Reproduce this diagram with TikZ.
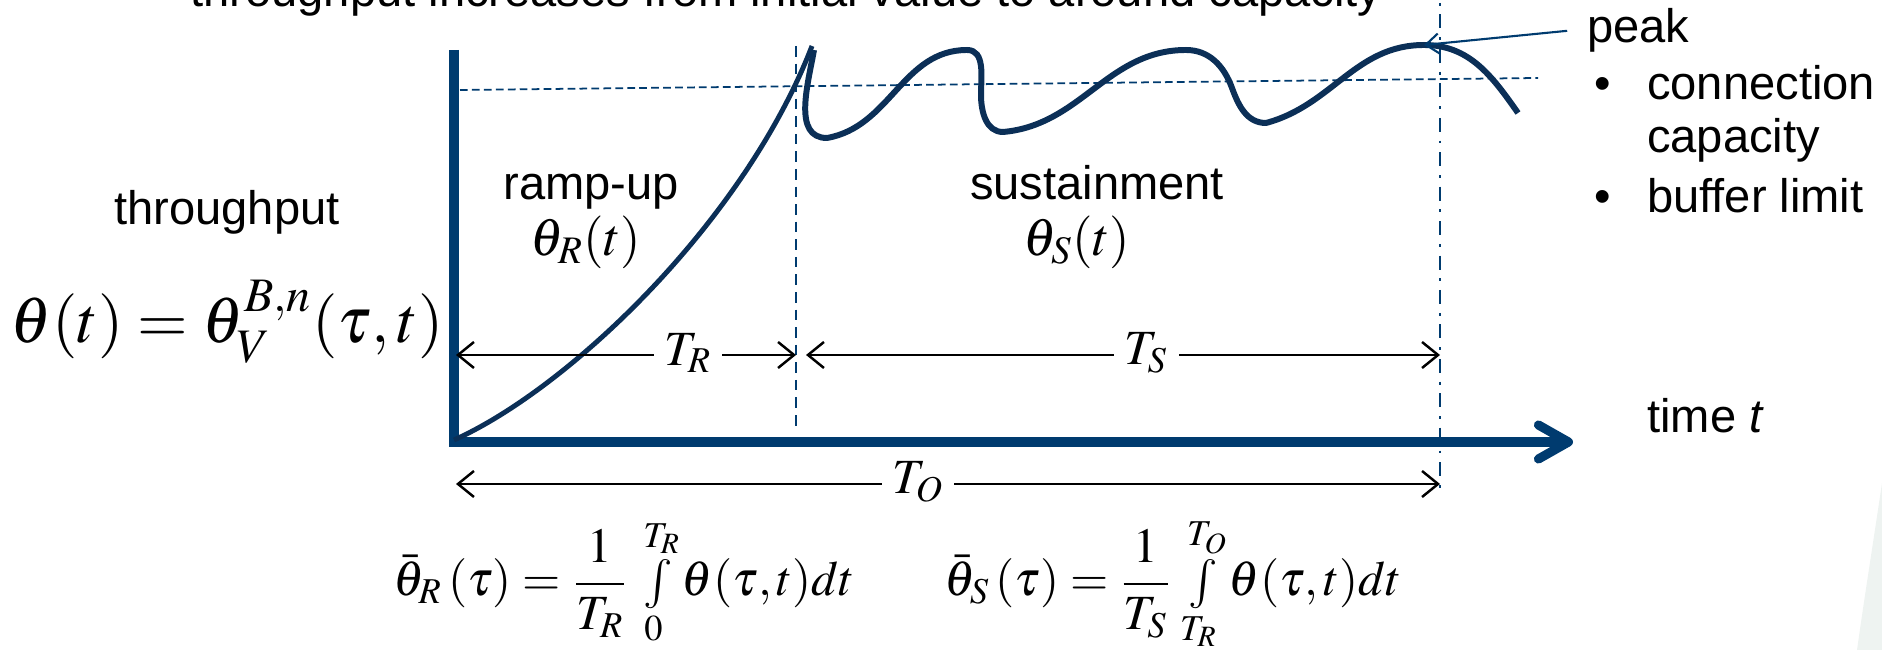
\documentclass[tikz,border=0pt]{standalone}
\usepackage{mathptmx}
\usepackage[no-math]{fontspec}
\setmainfont{Liberation Sans}
\usetikzlibrary{arrows.meta}

\definecolor{axisblue}{HTML}{003B6F}
\definecolor{curveblue}{HTML}{0B2F57}
\definecolor{slidebg}{HTML}{EEF3F1}

\begin{document}
\begin{tikzpicture}[
    every node/.style={font=\fontsize{13.4}{16}\selectfont, inner sep=1pt},
    axisline/.style={axisblue, line width=2.6pt},
    flowcurve/.style={curveblue, line width=1.7pt},
    guide/.style={axisblue, line width=0.6pt},
    dimline/.style={black, line width=0.7pt,
        {Straight Barb[length=1.6mm,width=2.6mm]}-{Straight Barb[length=1.6mm,width=2.6mm]}},
    dimlbl/.style={fill=white, inner xsep=3pt, inner ysep=1pt, font=\fontsize{14}{16}\selectfont},
    phaselbl/.style={font=\fontsize{15}{18}\selectfont},
    avglbl/.style={anchor=base, font=\fontsize{14}{17}\selectfont}
]

\useasboundingbox (0,0) rectangle (18.82,6.5);
\fill[slidebg] (18.82,1.67) .. controls (18.72,1.0) and (18.64,0.5) .. (18.57,0) -- (18.82,0) -- cycle;

% points of the plot
\coordinate (O) at (4.54,2.08);
\coordinate (ytop) at (4.54,6.00);
\coordinate (xend) at (15.73,2.08);
\coordinate (rtop) at (7.96,6.04);
\coordinate (rbot) at (7.96,2.22);
\coordinate (stop) at (14.40,6.70);
\coordinate (sbot) at (14.40,1.54);
\coordinate (capl) at (4.60,5.60);
\coordinate (capr) at (15.38,5.72);
\coordinate (pk) at (14.24,6.05);

% guide lines
\draw[guide, dash pattern=on 3pt off 2pt] (rtop) -- (rbot);
\draw[guide, dash pattern=on 4pt off 2.5pt on 0.8pt off 2.5pt] (stop) -- (sbot);
\draw[guide, line width=0.5pt, dash pattern=on 2.2pt off 1.2pt] (capl) -- (capr);

% axes
\draw[axisline, -{Straight Barb[length=3mm,width=3.4mm,round]}] (ytop) -- (O) -- (xend);

% ramp-up
\draw[flowcurve, line width=1.4pt] (4.54,2.10) .. controls (5.70,2.62) and (7.45,4.30) .. (8.12,6.04);

% sustainment
\draw[flowcurve] (8.14,6.00) to[out=-100,in=180] (8.27,5.12) to[out=10,in=180] (9.67,6.00)
    to[out=0,in=90] (9.81,5.55) to[out=-90,in=180] (10.03,5.18) to[out=5,in=180] (11.86,6.00)
    to[out=0,in=110] (12.32,5.62) to[out=-70,in=180] (12.66,5.27) to[out=15,in=180] (pk)
    to[out=0,in=125] (15.18,5.37);

% labels
\node[anchor=base] (topnote) at (7.86,6.43) {throughput increases from initial value to around capacity};
\node[anchor=base] (thr) at (2.27,4.25) {throughput};
\node[anchor=base, font=\fontsize{18.5}{22}\selectfont] (thfun) at (2.27,3.07) {$\theta(t)=\theta_V^{B,n}(\tau,t)$};
\node[anchor=base] (ramp) at (5.91,4.50) {ramp-up};
\node[phaselbl] (thR) at (5.86,4.08) {$\theta_R(t)$};
\node[anchor=base] (sust) at (10.97,4.50) {sustainment};
\node[phaselbl] (thS) at (10.77,4.08) {$\theta_S(t)$};

\node[anchor=base west] (peak) at (15.83,6.07) {peak};
\node[anchor=base west] (b1) at (15.90,5.50) {\textbullet};
\node[anchor=base west] (conn) at (16.43,5.50) {connection};
\node[anchor=base west] (cap) at (16.43,4.97) {capacity};
\node[anchor=base west] (b2) at (15.90,4.37) {\textbullet};
\node[anchor=base west] (buf) at (16.43,4.37) {buffer limit};
\node[anchor=base west] (time) at (16.43,2.17) {time \textit{t}};

\draw[axisblue, line width=0.6pt, -{Straight Barb[length=1.3mm,width=2mm]}] ([xshift=-4.5pt]peak.west) -- (pk);

% durations
\coordinate (dR1) at (4.56,2.95);
\coordinate (dR2) at (7.96,2.95);
\coordinate (dS1) at (8.06,2.95);
\coordinate (dS2) at (14.40,2.95);
\coordinate (dO1) at (4.56,1.66);
\coordinate (dO2) at (14.40,1.66);
\draw[dimline] (dR1) -- (dR2);
\draw[dimline] (dS1) -- (dS2);
\draw[dimline] (dO1) -- (dO2);
\node[dimlbl] (TR) at (6.88,2.97) {$T_R$};
\node[dimlbl] (TS) at (11.46,2.97) {$T_S$};
\node[dimlbl] (TO) at (9.18,1.68) {$T_O$};

% averages
\node[avglbl] (avgR) at (6.24,0.54)
    {$\bar{\theta}_R\,(\tau)=\displaystyle\frac{1}{T_R}\;{\textstyle\int\limits_0^{T_R}}\,\theta(\tau,t)dt$};
\node[avglbl] (avgS) at (11.73,0.54)
    {$\bar{\theta}_S\,(\tau)=\displaystyle\frac{1}{T_S}\;{\textstyle\int\limits_{T_R}^{T_O}}\,\theta(\tau,t)dt$};

\end{tikzpicture}
\end{document}
